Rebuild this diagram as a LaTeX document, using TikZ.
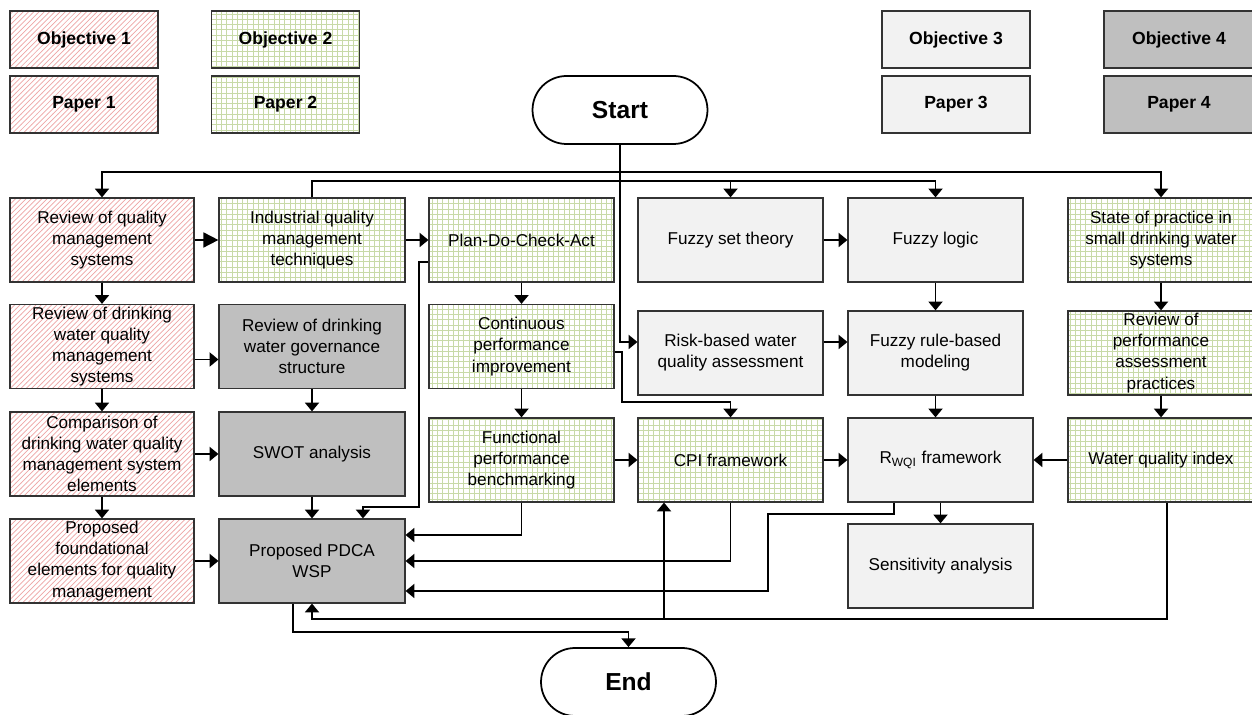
\documentclass[tikz,border=0pt]{standalone}
\usepackage{fontspec}
\setmainfont{Liberation Sans}
\usetikzlibrary{patterns,arrows.meta}
\definecolor{hatchred}{RGB}{238,165,165}
\definecolor{gridgreen}{RGB}{200,218,168}
\definecolor{lightfill}{RGB}{242,242,242}
\definecolor{darkfill}{RGB}{191,191,191}
\tikzset{
  box/.style={draw=black!80, line width=0.7pt, align=center, inner sep=0pt,
    minimum height=1.68cm, font=\fontsize{9.75}{12}\selectfont},
  legendbox/.style={box, minimum width=2.96cm, minimum height=1.14cm,
    font=\bfseries\fontsize{10}{12}\selectfont},
  redhatch/.style={preaction={fill=white}, pattern=north east lines, pattern color=hatchred},
  greengrid/.style={preaction={fill=white}, pattern=grid, pattern color=gridgreen},
  lightbox/.style={fill=lightfill},
  darkbox/.style={fill=darkfill},
  terminal/.style={draw, line width=1pt, rounded corners=0.68cm, minimum width=3.5cm,
    minimum height=1.36cm, font=\bfseries\fontsize{14}{16}\selectfont}
}
\begin{document}
\begin{tikzpicture}[x=0.02cm, y=-0.02cm,
    arr/.style={line width=1pt, -{Triangle[length=5pt,width=8pt]}},
    bigarr/.style={line width=1pt, -{Triangle[length=8.5pt,width=8.5pt]}}]
  \useasboundingbox (0,0) rectangle (1252,715);
  \clip (0,0) rectangle (1252,715);

  % legend
  \node[legendbox, redhatch] (obj1) at (84,39.5) {Objective 1};
  \node[legendbox, redhatch] (pap1) at (84,104.5) {Paper 1};
  \node[legendbox, greengrid] (obj2) at (285.5,39.5) {Objective 2};
  \node[legendbox, greengrid] (pap2) at (285.5,104.5) {Paper 2};
  \node[legendbox, lightbox] (obj3) at (956,39.5) {Objective 3};
  \node[legendbox, lightbox] (pap3) at (956,104.5) {Paper 3};
  \node[legendbox, darkbox, minimum width=3cm] (obj4) at (1179,39.5) {Objective 4};
  \node[legendbox, darkbox, minimum width=3cm] (pap4) at (1179,104.5) {Paper 4};

  \node[terminal] (start) at (620,110) {Start};
  \node[terminal] (finish) at (628.5,682) {End};

  % objective 1
  \node[box, redhatch, minimum width=3.68cm] (rqms) at (102,240) {Review of quality\\management\\systems};
  \node[box, redhatch, minimum width=3.68cm] (rdwqms) at (102,346.5) {Review of drinking\\water quality\\management\\systems};
  \node[box, redhatch, minimum width=3.68cm] (comp) at (102,454) {Comparison of\\drinking water quality\\management system\\elements};
  \node[box, redhatch, minimum width=3.68cm] (found) at (102,561) {Proposed\\foundational\\elements for quality\\management};

  % column 2
  \node[box, greengrid, minimum width=3.72cm] (iqmt) at (312,240) {Industrial quality\\management\\techniques};
  \node[box, darkbox, minimum width=3.72cm] (gov) at (312,346.5) {Review of drinking\\water governance\\structure};
  \node[box, darkbox, minimum width=3.72cm] (swot) at (312,454) {SWOT analysis};
  \node[box, darkbox, minimum width=3.72cm] (wsp) at (312,561) {Proposed PDCA\\WSP};

  % column 3
  \node[box, greengrid, minimum width=3.7cm] (pdca) at (521.5,240) {Plan-Do-Check-Act};
  \node[box, greengrid, minimum width=3.7cm] (cpimp) at (521.5,346.5) {Continuous\\performance\\improvement};
  \node[box, greengrid, minimum width=3.7cm] (fpb) at (521.5,460) {Functional\\performance\\benchmarking};

  % column 4
  \node[box, lightbox, minimum width=3.7cm] (fst) at (730.5,240) {Fuzzy set theory};
  \node[box, lightbox, minimum width=3.7cm] (risk) at (730.5,353) {Risk-based water\\quality assessment};
  \node[box, greengrid, minimum width=3.7cm] (cpif) at (730.5,460) {CPI framework};

  % column 5
  \node[box, lightbox, minimum width=3.5cm] (flog) at (935.5,240) {Fuzzy logic};
  \node[box, lightbox, minimum width=3.5cm] (frbm) at (935.5,353) {Fuzzy rule-based\\modeling};
  \node[box, lightbox, minimum width=3.7cm] (rwqi) at (940.5,460) {R\textsubscript{WQI} framework};
  \node[box, lightbox, minimum width=3.7cm] (sens) at (940.5,566) {Sensitivity analysis};

  % column 6
  \node[box, greengrid, minimum width=3.72cm] (sop) at (1161,240) {State of practice in\\small drinking water\\systems};
  \node[box, greengrid, minimum width=3.72cm] (rpap) at (1161,353) {Review of\\performance\\assessment\\practices};
  \node[box, greengrid, minimum width=3.72cm] (wqi) at (1161,460) {Water quality index};

  % from start
  \draw[arr] (start.south) -- (start.south |- 0,172) -| (rqms.north);
  \draw[arr] (start.south) -- (start.south |- 0,172) -| (sop.north);
  \draw[arr] (start.south) |- ([yshift=0.22cm]risk.west);
  \draw[arr] (iqmt.north) -- (iqmt.north |- 0,181) -| (flog.north);
  \draw[arr] (iqmt.north |- 0,181) -| (fst.north);

  % objective 1 and 2
  \draw[bigarr] (rqms) -- (iqmt);
  \draw[arr] (rqms) -- (rdwqms);
  \draw[arr] (rdwqms) -- (comp);
  \draw[arr] (comp) -- (found);
  \draw[arr] ([yshift=-0.26cm]rdwqms.east) -- ([yshift=-0.26cm]gov.west);
  \draw[arr] (comp) -- (swot);
  \draw[arr] (found) -- (wsp);
  \draw[arr] (gov) -- (swot);
  \draw[arr] (swot) -- (wsp);
  \draw[arr] (iqmt) -- (pdca);
  \draw[arr] ([yshift=-0.44cm]pdca.west) -| (419,507) -| ([xshift=1.02cm]wsp.north);
  \draw[arr] (pdca) -- (cpimp);
  \draw[arr] (cpimp) -- (fpb);
  \draw[arr] ([yshift=-0.11cm]cpimp.east) -| (622,402) -| (cpif.north);
  \draw[arr] (fpb) -- (cpif);
  \draw[arr] (fpb.south) |- ([yshift=0.52cm]wsp.east);
  \draw[arr] (cpif.south) |- (wsp.east);

  % objective 3 and 4
  \draw[arr] (fst) -- (flog);
  \draw[arr] ([yshift=0.22cm]risk.east) -- ([yshift=0.22cm]frbm.west);
  \draw[arr] (flog) -- (frbm);
  \draw[arr] (frbm.south) -- (frbm.south |- rwqi.north);
  \draw[arr] (cpif) -- (rwqi);
  \draw[arr] (rwqi) -- (sens);
  \draw[arr] ([xshift=-0.93cm]rwqi.south) |- (768,514) |- ([yshift=-0.6cm]wsp.east);
  \draw[arr] (sop) -- (rpap);
  \draw[arr] (rpap) -- (wqi);
  \draw[arr] (wqi) -- (rwqi);
  \coordinate (wqiback) at (664,619);
  \draw[arr] ([xshift=0.12cm]wqi.south) |- (wqiback) -| (wsp.south);
  \draw[arr] (wqiback) -- (wqiback |- cpif.south);

  % to end
  \draw[arr] ([xshift=-0.38cm]wsp.south) |- ([yshift=0.3cm]finish.north) -- (finish.north);
\end{tikzpicture}
\end{document}
